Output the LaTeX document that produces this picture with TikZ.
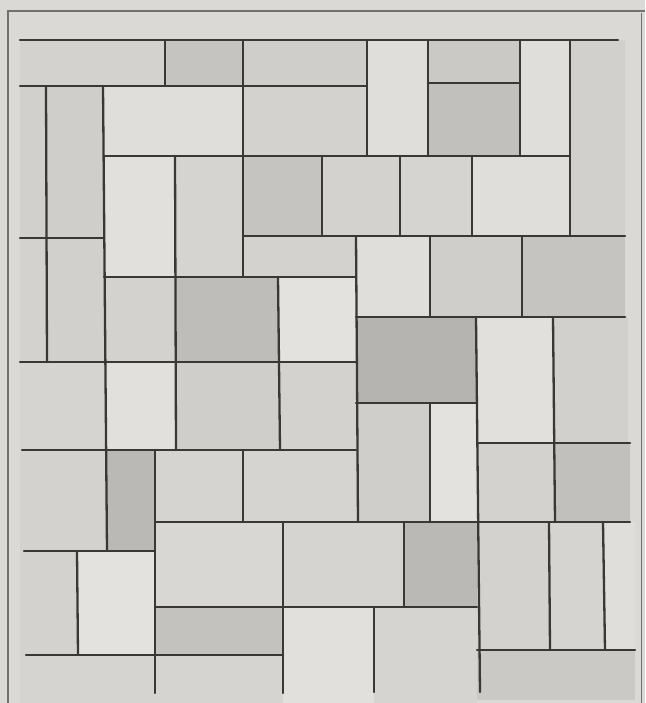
\documentclass[tikz,border=0pt]{standalone}
\definecolor{paper}{RGB}{219,217,213}
\definecolor{stone}{RGB}{233,231,227}
\definecolor{ink}{RGB}{58,56,54}

\begin{document}
\begin{tikzpicture}[x=1pt, y=-1pt,
    joint/.style={draw=ink, line width=2.3pt, line cap=round},
    rim/.style={draw=ink!65!paper, line width=1.2pt}]
    \useasboundingbox (0,0) rectangle (645,703);
    \fill[paper] (0,0) rectangle (645,703);

    % flags: left, top, right, bottom, shade
    \foreach \xa/\ya/\xb/\yb/\k in {
        20/40/165/86/9, 165/40/243/86/15, 243/40/367/86/11, 367/40/428/156/4,
        428/40/520/83/13, 428/83/520/156/17, 520/40/570/156/4, 570/40/625/236/10,
        20/86/46/238/10, 46/86/104/238/11, 20/238/46/362/9, 46/238/105/362/10,
        104/86/243/156/4, 243/86/367/156/9,
        104/156/175/277/3, 175/156/243/277/8, 243/156/322/236/15, 322/156/400/236/9,
        400/156/472/236/8, 472/156/570/236/4, 243/236/356/277/9,
        356/236/430/317/4, 430/236/522/317/11, 522/236/625/317/15,
        105/277/175/362/9, 175/277/278/362/18, 278/277/356/362/2,
        20/362/106/450/8, 106/362/176/450/3, 176/362/279/450/11, 279/362/356/450/9,
        356/317/477/403/22, 477/317/554/443/3, 554/317/628/443/10,
        356/403/430/522/11, 430/403/477/522/2, 477/443/554/522/9, 554/443/630/522/17,
        20/450/107/551/9, 107/450/155/551/20, 155/450/243/522/8, 243/450/356/522/8,
        155/522/283/607/7, 283/522/404/607/8, 404/522/477/607/20,
        20/551/77/655/9, 77/551/155/655/2, 155/607/283/655/16,
        20/655/155/703/8, 155/655/283/703/8, 283/607/374/703/3, 374/607/477/703/8,
        477/522/549/650/9, 549/522/604/650/8, 604/522/635/650/4, 477/650/635/700/13}
        \fill[black!\k!stone] (\xa,\ya) rectangle (\xb,\yb);

    % frame
    \draw[rim] (8,703) -- (8,11) -- (645,11);
    \draw[rim, line width=0.8pt] (641,13) -- (641,703);

    % long joints
    \draw[joint] (20,40) -- (618,40);
    \draw[joint] (20,86) -- (367,86);
    \draw[joint] (428,83) -- (520,83);
    \draw[joint] (104,156) -- (570,156);
    \draw[joint] (20,238) -- (104,238);
    \draw[joint] (243,236) -- (625,236);
    \draw[joint] (104,277) -- (356,277);
    \draw[joint] (356,317) -- (625,317);
    \draw[joint] (20,362) -- (356,362);
    \draw[joint] (356,403) -- (477,403);
    \draw[joint] (477,443) -- (630,443);
    \draw[joint] (22,450) -- (356,450);
    \draw[joint] (155,522) -- (630,522);
    \draw[joint] (24,551) -- (155,551);
    \draw[joint] (155,607) -- (477,607);
    \draw[joint] (477,650) -- (635,650);
    \draw[joint] (26,655) -- (283,655);

    % cross joints
    \draw[joint] (46,86) -- (47,362);
    \draw[joint] (103,86) -- (107,551);
    \draw[joint] (165,40) -- (165,86);
    \draw[joint] (243,40) -- (243,277);
    \draw[joint] (367,40) -- (367,156);
    \draw[joint] (428,40) -- (428,156);
    \draw[joint] (520,40) -- (520,156);
    \draw[joint] (570,40) -- (570,236);
    \draw[joint] (175,156) -- (176,450);
    \draw[joint] (322,156) -- (322,236);
    \draw[joint] (400,156) -- (400,236);
    \draw[joint] (472,156) -- (472,236);
    \draw[joint] (278,277) -- (280,450);
    \draw[joint] (356,236) -- (358,522);
    \draw[joint] (430,236) -- (430,317);
    \draw[joint] (522,236) -- (522,317);
    \draw[joint] (430,403) -- (430,522);
    \draw[joint] (553,317) -- (555,522);
    \draw[joint] (476,317) -- (480,692);
    \draw[joint] (155,450) -- (155,693);
    \draw[joint] (243,450) -- (243,522);
    \draw[joint] (77,551) -- (78,655);
    \draw[joint] (283,522) -- (283,693);
    \draw[joint] (404,522) -- (404,607);
    \draw[joint] (374,607) -- (374,692);
    \draw[joint] (549,522) -- (550,650);
    \draw[joint] (603,522) -- (605,650);
\end{tikzpicture}
\end{document}
